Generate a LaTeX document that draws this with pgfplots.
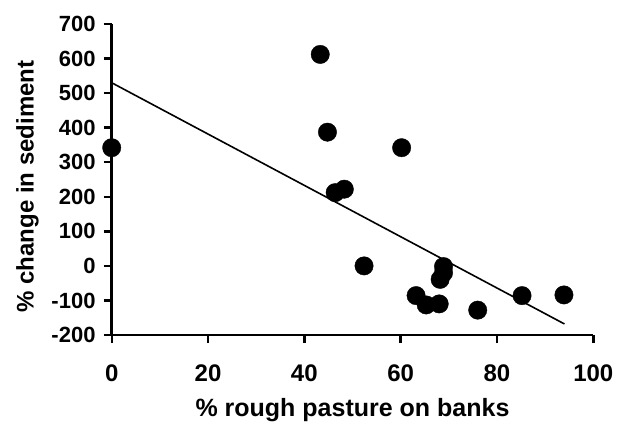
\documentclass[border=0pt]{standalone}
\usepackage{fontspec}
\setmainfont{Liberation Sans}
\usepackage{pgfplots}
\pgfplotsset{compat=1.18}
\begin{document}
\begin{tikzpicture}
\begin{axis}[
  scale only axis, width=481.6pt, height=311pt,
  xmin=0, xmax=100, ymin=-200, ymax=700,
  axis x line=bottom, axis y line=left,
  axis line style={-, line width=2.8pt, black},
  xtick={0,20,...,100}, ytick={-200,-100,...,700},
  tick style={line width=2.4pt, black},
  major tick length=8pt, tick align=outside,
  /pgf/number format/assume math mode=true,
  yticklabel style={font=\bfseries\fontsize{22}{22}\selectfont, anchor=east, inner sep=0pt, xshift=-8pt},
  xticklabel style={font=\bfseries\fontsize{24}{24}\selectfont, anchor=center, inner sep=0pt, yshift=-30pt},
  clip=false,
]
\addplot[black, line width=1.6pt, no marks] coordinates {(0,530) (94,-168)};
\addplot[only marks, mark=*, mark size=9.2pt, black] coordinates {
(0,342) (43.3,612) (44.8,387) (46.4,212) (48.3,222) (60.2,342) (52.4,0)
(68.9,-2) (68.9,-20) (68.2,-39) (63.2,-86) (65.3,-113) (68.0,-110)
(76.0,-128) (85.2,-86) (93.9,-84)
};
\coordinate (sw) at (rel axis cs:0,0);
\coordinate (ne) at (rel axis cs:1,1);
\coordinate (xl) at (rel axis cs:0.5,0);
\coordinate (yl) at (rel axis cs:0,0.5);
\end{axis}
\node[anchor=base, inner sep=0pt, font=\bfseries\fontsize{25}{25}\selectfont] at ([yshift=-81.5pt]xl) {\% rough pasture on banks};
\node[anchor=base, rotate=90, inner sep=0pt, font=\bfseries\fontsize{24}{24}\selectfont] at ([xshift=-78pt, yshift=-7pt]yl) {\% change in sediment};
\pgfresetboundingbox
\path ([shift={(-111.7pt,-88pt)}]sw) rectangle ([shift={(23.7pt,24pt)}]ne);
\end{tikzpicture}
\end{document}
